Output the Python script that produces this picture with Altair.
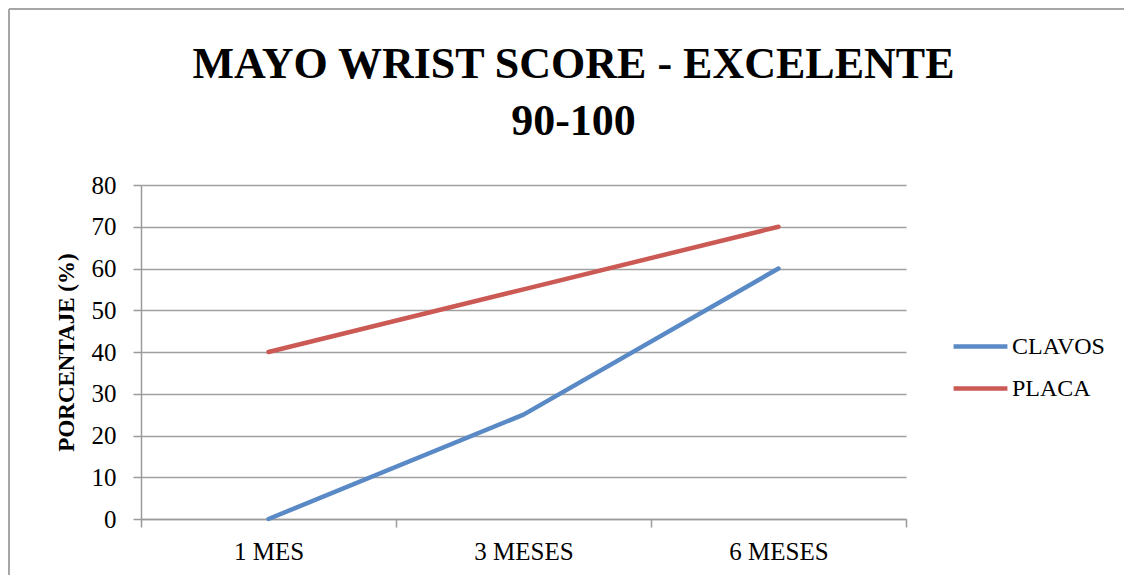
import altair as alt
import pandas as pd

meses = ["1 MES", "3 MESES", "6 MESES"]
clavos = [0, 25, 60]
placa = [40, 55, 70]
series = ["CLAVOS", "PLACA"]
colors = ["#5A8AC6", "#CB5A55"]

rows = []
for name, vals in zip(series, [clavos, placa]):
    for m, v in zip(meses, vals):
        rows.append({"mes": m, "serie": name, "valor": v})
df = pd.DataFrame(rows)

FONT = "Liberation Serif"

lines = alt.Chart(df).mark_line(strokeWidth=4.5, strokeCap="round", strokeJoin="round").encode(
    x=alt.X(
        "mes:N",
        sort=meses,
        bandPosition=0.5,
        scale=alt.Scale(type="band", paddingInner=0, paddingOuter=0),
        axis=alt.Axis(
            title=None,
            tickBand="extent",
            labelAngle=0,
            labelFontSize=25,
            labelFont=FONT,
            labelColor="#000000",
            labelPadding=12,
            tickSize=8,
            tickColor="#9a9a9a",
            domainColor="#9a9a9a",
            tickWidth=1.5,
            domainWidth=1.5,
            grid=False,
        ),
    ),
    y=alt.Y(
        "valor:Q",
        scale=alt.Scale(domain=[0, 80], nice=False),
        axis=alt.Axis(
            title="PORCENTAJE (%)",
            titleFont=FONT,
            titleFontSize=23,
            titleFontWeight="bold",
            titleColor="#000000",
            titlePadding=13,
            values=list(range(0, 81, 10)),
            labelFontSize=25,
            labelFont=FONT,
            labelColor="#000000",
            labelPadding=17,
            tickSize=8,
            tickColor="#9a9a9a",
            tickWidth=1.5,
            domainColor="#9a9a9a",
            domainWidth=1.5,
            grid=True,
            gridColor="#a0a0a0",
            gridWidth=1.5,
        ),
    ),
    color=alt.Color(
        "serie:N",
        scale=alt.Scale(domain=series, range=colors),
        legend=alt.Legend(
            title=None,
            orient="none",
            legendX=810,
            legendY=132,
            symbolType="stroke",
            symbolSize=2900,
            symbolStrokeWidth=4.5,
            labelFont=FONT,
            labelFontSize=24,
            labelColor="#000000",
            labelOffset=2,
            rowPadding=0,
            padding=0,
        ),
    ),
)

frame_df = pd.DataFrame({"k": [0]})
top_rule = alt.Chart(frame_df).mark_rule(color="#a6a6a6", strokeWidth=2).encode(
    x=alt.value(-132), x2=alt.value(990), y=alt.value(-176)
)
left_rule = alt.Chart(frame_df).mark_rule(color="#a6a6a6", strokeWidth=2).encode(
    x=alt.value(-132), y=alt.value(-176), y2=alt.value(390)
)

chart = alt.layer(top_rule, left_rule, lines).properties(
    width=765,
    height=334,
    autosize="none",
    padding={"left": 133, "top": 177, "right": 218, "bottom": 61},
    title=alt.TitleParams(
        text=["MAYO WRIST SCORE - EXCELENTE", "90-100"],
        font=FONT,
        fontSize=44,
        fontWeight="bold",
        color="#000000",
        lineHeight=57,
        anchor="middle",
        frame="group",
        baseline="alphabetic",
        dx=50,
        offset=-171,
    ),
).configure_view(stroke=None)

chart.save("out.html", embed_options={"renderer": "svg", "actions": False})
